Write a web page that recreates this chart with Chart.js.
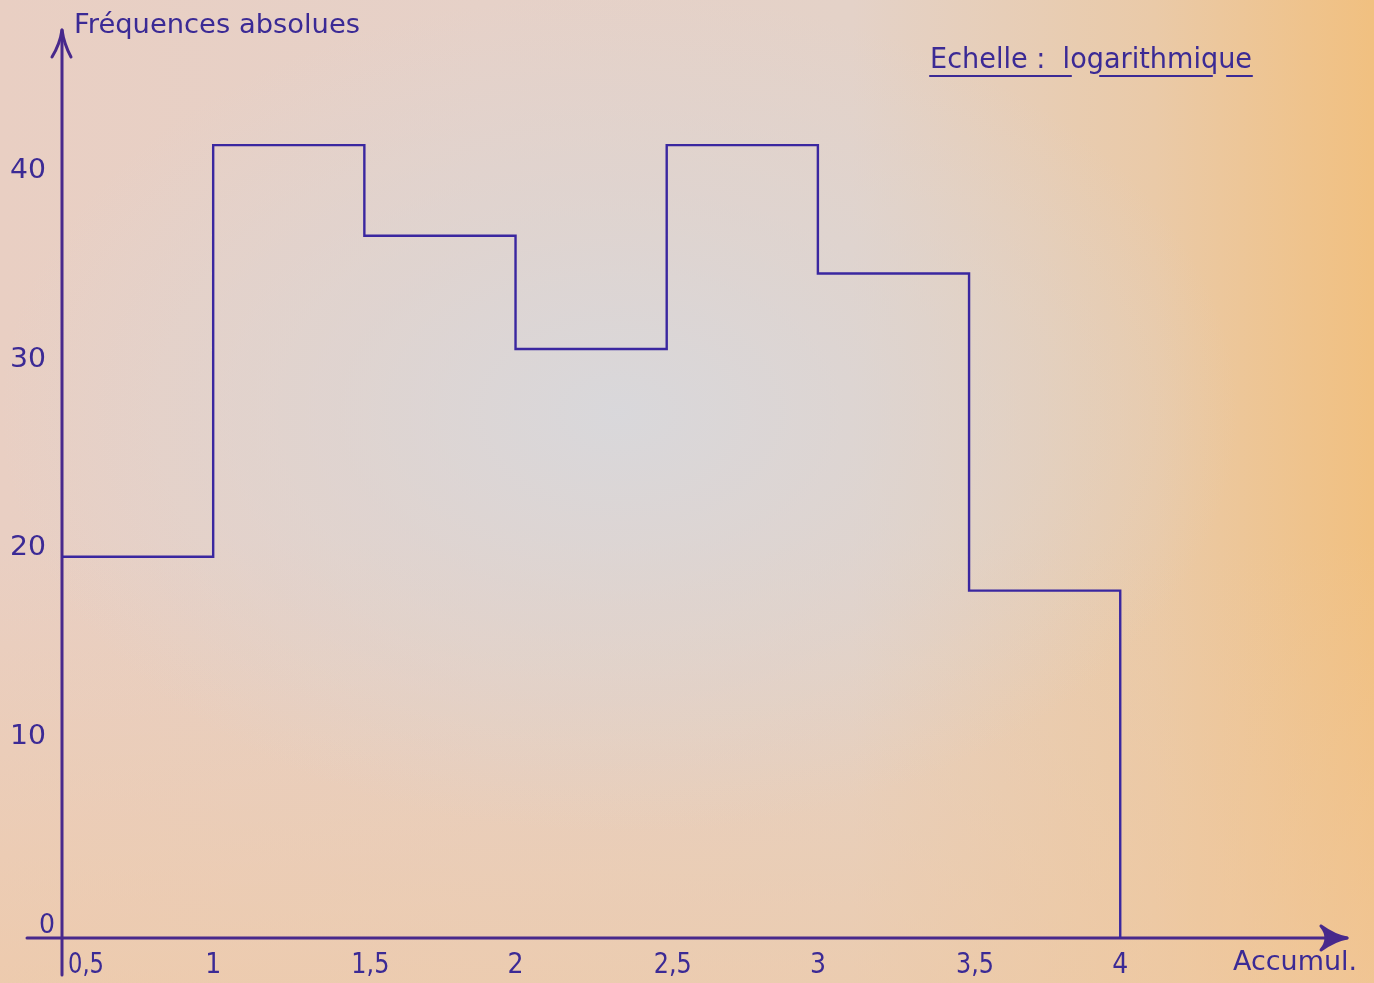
<!DOCTYPE html>
<html lang="fr">
<head>
<meta charset="utf-8">
<title>Fréquences absolues</title>
<script src="https://cdn.jsdelivr.net/npm/chart.js@4"></script>
<style>
  html, body { margin: 0; padding: 0; }
  body {
    width: 1374px; height: 983px; overflow: hidden;
    background:
      radial-gradient(ellipse 620px 420px at 45% 42%, rgba(216,216,220,0.95) 0%, rgba(218,214,214,0.6) 45%, rgba(220,212,210,0) 100%),
      linear-gradient(to bottom, rgba(240,204,170,0) 55%, rgba(240,200,160,0.6) 100%),
      linear-gradient(to right, #e9cfc3 0%, #e6d1c8 35%, #e4d2c8 62%, #eacaa8 84%, #f1c080 100%);
  }
  #wrap { position: relative; width: 1374px; height: 983px; }
</style>
</head>
<body>
<div id="wrap"><canvas id="histo" width="1374" height="983"></canvas></div>
<script>
// Class boundaries on the (log) cumulative axis and the absolute frequency of each class
const binEdges = [0.5, 1, 1.5, 2, 2.5, 3, 3.5, 4];
const frequencies = [20.2, 42, 37.2, 31.2, 42, 35.2, 18.4];
const xTickLabels = ['0,5', '1', '1,5', '2', '2,5', '3', '3,5', '4'];
const yTickValues = [0, 10, 20, 30, 40];

const ink = '#3a27a0';
const axisInk = '#48298c';
const textInk = '#3b2a95';
const handFont = '"DejaVu Sans", "Liberation Sans", sans-serif';

// Outline of the histogram: one step per class, closed down to zero at the last boundary
const outline = binEdges.map((x, i) => ({ x, y: i < frequencies.length ? frequencies[i] : 0 }));

// Writes a line of text squeezed horizontally to a given width
function fitText(ctx, text, x, y, width, size, align) {
  ctx.font = size + 'px ' + handFont;
  const natural = ctx.measureText(text).width;
  const k = width / natural;
  let left = x;
  if (align === 'center') left = x - width / 2;
  else if (align === 'right') left = x - width;
  ctx.save();
  ctx.textAlign = 'left';
  ctx.translate(left, y);
  ctx.scale(k, 1);
  ctx.fillText(text, 0, 0);
  ctx.restore();
}

const paperAxes = {
  id: 'paperAxes',
  beforeDatasetsDraw(chart) {
    const { ctx, scales: { x, y } } = chart;
    const x0 = x.getPixelForValue(0.5);
    const y0 = y.getPixelForValue(0);
    const yTop = y.getPixelForValue(y.max);
    const xEnd = x.getPixelForValue(x.max);
    ctx.save();
    ctx.strokeStyle = axisInk;
    ctx.fillStyle = axisInk;
    ctx.lineCap = 'round';
    ctx.lineJoin = 'round';
    ctx.lineWidth = 3;
    // vertical axis, running a little below the horizontal one
    ctx.beginPath();
    ctx.moveTo(x0, y0 + 37);
    ctx.lineTo(x0, yTop);
    ctx.stroke();
    // arrow head on the vertical axis
    ctx.beginPath();
    ctx.moveTo(x0 - 10, yTop + 27);
    ctx.quadraticCurveTo(x0 - 2, yTop + 14, x0, yTop);
    ctx.quadraticCurveTo(x0 + 2, yTop + 14, x0 + 9, yTop + 27);
    ctx.stroke();
    // horizontal axis
    ctx.beginPath();
    ctx.moveTo(x0 - 35, y0);
    ctx.lineTo(xEnd, y0);
    ctx.stroke();
    // arrow head on the horizontal axis
    ctx.beginPath();
    ctx.moveTo(xEnd - 26, y0 - 12);
    ctx.quadraticCurveTo(xEnd - 12, y0 - 2, xEnd, y0);
    ctx.quadraticCurveTo(xEnd - 12, y0 + 2, xEnd - 26, y0 + 12);
    ctx.quadraticCurveTo(xEnd - 16, y0, xEnd - 26, y0 - 12);
    ctx.fill();
    ctx.stroke();
    ctx.restore();
  },
  afterDraw(chart) {
    const { ctx, scales: { x, y } } = chart;
    const x0 = x.getPixelForValue(0.5);
    const y0 = y.getPixelForValue(0);
    ctx.save();
    ctx.fillStyle = textInk;
    ctx.textBaseline = 'middle';

    // vertical tick labels
    yTickValues.forEach(v => {
      const py = y.getPixelForValue(v) - 12;
      if (v === 0) fitText(ctx, '0', x0 - 7, py, 16, 27, 'right');
      else fitText(ctx, String(v), x0 - 16, py, 36, 27, 'right');
    });

    // horizontal tick labels
    binEdges.forEach((v, i) => {
      const px = x.getPixelForValue(v);
      const label = xTickLabels[i];
      const py = y0 + 28;
      if (i === 0) fitText(ctx, label, px + 6, py, 36, 28, 'left');
      else if (label.includes(',')) fitText(ctx, label, px + 6, py, 38, 28, 'center');
      else fitText(ctx, label, px, py, 16, 28, 'center');
    });

    // axis titles
    fitText(ctx, 'Fréquences absolues', x0 + 12, 26, 286, 26, 'left');
    fitText(ctx, 'Accumul.', 1357, y0 + 25, 124, 27, 'right');

    // scale note, underlined around the descenders
    const nx = 930, ny = 60;
    fitText(ctx, 'Echelle :  logarithmique', nx, ny, 322, 29, 'left');
    ctx.strokeStyle = textInk;
    ctx.lineWidth = 2.2;
    ctx.lineCap = 'round';
    [[930, 1071], [1100, 1212], [1227, 1252]].forEach(([a, b]) => {
      ctx.beginPath();
      ctx.moveTo(a, ny + 16);
      ctx.lineTo(b, ny + 16);
      ctx.stroke();
    });
    ctx.restore();
  }
};

new Chart(document.getElementById('histo'), {
  type: 'line',
  data: {
    datasets: [{
      label: 'Fréquences absolues',
      data: outline,
      stepped: 'before',
      borderColor: ink,
      borderWidth: 2.4,
      pointRadius: 0,
      fill: false,
      tension: 0
    }]
  },
  options: {
    responsive: false,
    animation: false,
    events: [],
    layout: { padding: { left: 62, right: 27, top: 30, bottom: 45 } },
    plugins: { legend: { display: false }, tooltip: { enabled: false } },
    scales: {
      x: { type: 'linear', min: 0.5, max: 4.75, display: false },
      y: { type: 'linear', min: 0, max: 48.1, display: false }
    }
  },
  plugins: [paperAxes]
});
</script>
</body>
</html>
